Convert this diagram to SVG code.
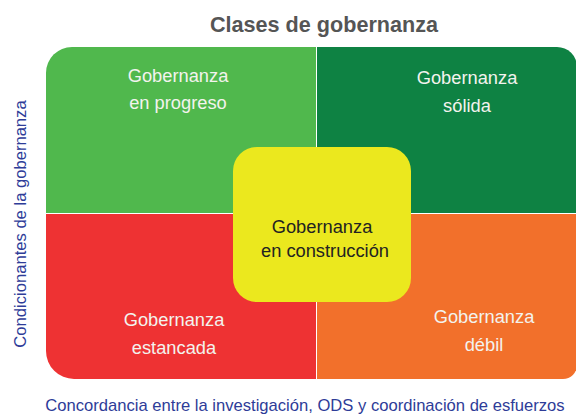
<svg xmlns="http://www.w3.org/2000/svg" width="576" height="414" viewBox="0 0 576 414">
  <style>
    .q { font-family: "Liberation Sans", Arial, sans-serif; font-size: 18.3px; fill: #f3f3ee; text-anchor: middle; }
    .c { font-family: "Liberation Sans", Arial, sans-serif; font-size: 18.3px; fill: #222222; text-anchor: middle; }
    .axis { font-family: "Liberation Sans", Arial, sans-serif; font-size: 16.6px; fill: #2e3c98; text-anchor: middle; }
    .title { font-family: "Liberation Sans", Arial, sans-serif; font-size: 21.6px; font-weight: bold; fill: #555555; text-anchor: middle; }
  </style>
  <defs>
    <clipPath id="outer">
      <path d="M72,47 H557 A20,20 0 0 1 577,67 V365 A14,14 0 0 1 563,379 H74 A28,28 0 0 1 46,351 V73 A26,26 0 0 1 72,47 Z"/>
    </clipPath>
  </defs>
  <rect width="576" height="414" fill="#ffffff"/>
  <text class="title" x="324" y="32">Clases de gobernanza</text>
  <g clip-path="url(#outer)">
    <g id="en-progreso">
      <rect x="46" y="47" width="270" height="166" fill="#50b84d"/>
      <text class="q" x="178" y="82">Gobernanza</text>
      <text class="q" x="178" y="109">en progreso</text>
    </g>
    <g id="solida">
      <rect x="317" y="47" width="262" height="166" fill="#0e8243"/>
      <text class="q" x="467" y="84">Gobernanza</text>
      <text class="q" x="467" y="112">sólida</text>
    </g>
    <g id="estancada">
      <rect x="46" y="214" width="270" height="167" fill="#ee3233"/>
      <text class="q" x="174" y="326">Gobernanza</text>
      <text class="q" x="174" y="354">estancada</text>
    </g>
    <g id="debil">
      <rect x="317" y="214" width="262" height="167" fill="#f2702b"/>
      <text class="q" x="484" y="323">Gobernanza</text>
      <text class="q" x="484" y="351">débil</text>
    </g>
  </g>
  <g id="en-construccion">
    <rect x="233" y="147" width="178" height="155" rx="24" ry="24" fill="#ebe81e"/>
    <text class="c" x="322" y="233">Gobernanza</text>
    <text class="c" x="325" y="257">en construcción</text>
  </g>
  <text class="axis" x="305" y="411">Concordancia entre la investigación, ODS y coordinación de esfuerzos</text>
  <text class="axis" transform="translate(26,224) rotate(-90)" x="0" y="0" font-size="17.4">Condicionantes de la gobernanza</text>
</svg>
